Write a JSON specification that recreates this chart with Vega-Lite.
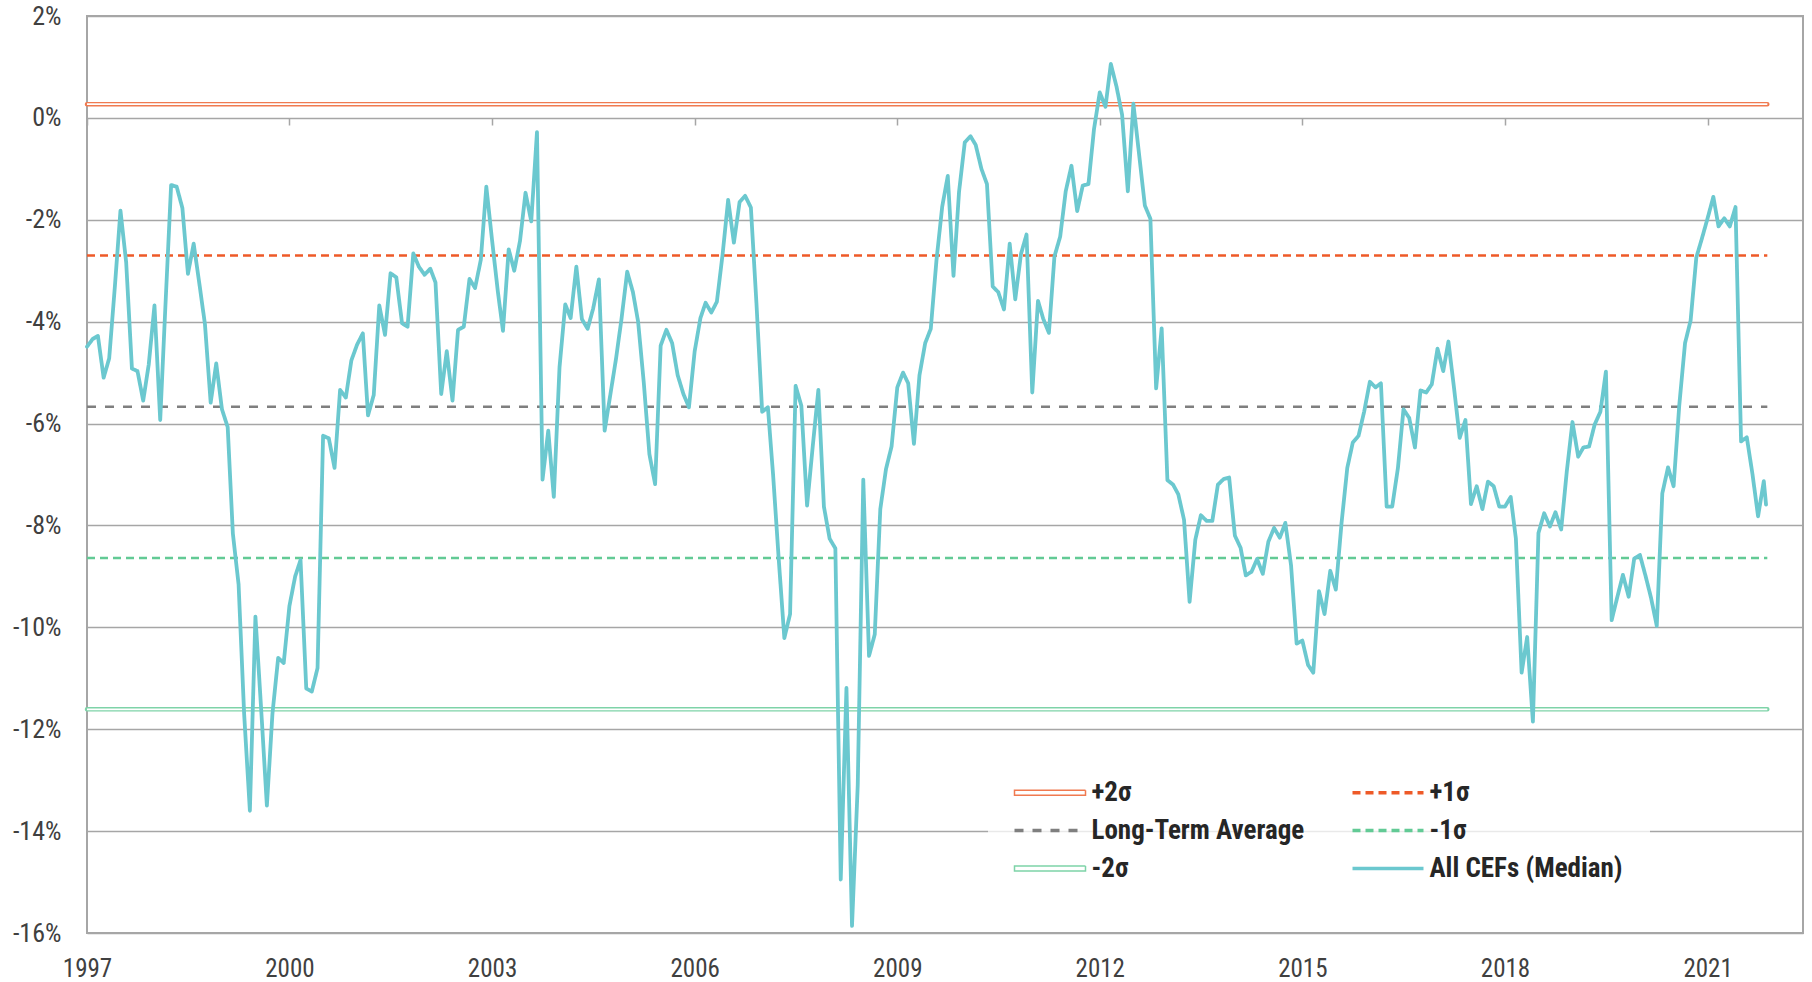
{
  "$schema": "https://vega.github.io/schema/vega-lite/v6.json",
  "width": 1716,
  "height": 917,
  "autosize": {"type": "none"},
  "padding": {"left": 87, "top": 16, "right": 9, "bottom": 49},
  "background": "white",
  "config": {
    "view": {"stroke": "#A6A6A6", "strokeWidth": 2},
    "font": "Roboto Condensed",
    "legend": {
      "orient": "none",
      "legendX": 901,
      "legendY": 736,
      "columns": 2,
      "columnPadding": 40,
      "rowPadding": 10,
      "padding": 27,
      "fillColor": "rgba(255,255,255,0.75)",
      "symbolType": "stroke",
      "symbolSize": 5041,
      "symbolStrokeWidth": 3.5,
      "symbolOffset": 21.5,
      "labelFont": "Roboto Condensed",
      "labelFontSize": 27,
      "labelFontWeight": "bold",
      "labelColor": "#262626",
      "labelOffset": 28,
      "labelLimit": 400
    }
  },
  "datasets": {
    "refs": [
      {"series": "+2σ", "value": 0.27, "start": "1997-01-01", "end": "2021-11-20"},
      {"series": "+1σ", "value": -2.70, "start": "1997-01-01", "end": "2021-11-20"},
      {"series": "Long-Term Average", "value": -5.67, "start": "1997-01-01", "end": "2021-11-20"},
      {"series": "-1σ", "value": -8.64, "start": "1997-01-01", "end": "2021-11-20"},
      {"series": "-2σ", "value": -11.61, "start": "1997-01-01", "end": "2021-11-20"}
    ],
    "main": [
      {"date": "1997-01-01", "value": -4.49}, {"date": "1997-02-01", "value": -4.34}, {"date": "1997-03-01", "value": -4.28}, {"date": "1997-04-01", "value": -5.10}, {"date": "1997-05-01", "value": -4.72}, {"date": "1997-06-01", "value": -3.30}, {"date": "1997-07-01", "value": -1.82}, {"date": "1997-08-01", "value": -2.84}, {"date": "1997-09-01", "value": -4.92}, {"date": "1997-10-01", "value": -4.97}, {"date": "1997-11-01", "value": -5.55}, {"date": "1997-12-01", "value": -4.84},
      {"date": "1998-01-01", "value": -3.68}, {"date": "1998-02-01", "value": -5.93}, {"date": "1998-03-01", "value": -3.70}, {"date": "1998-04-01", "value": -1.32}, {"date": "1998-05-01", "value": -1.35}, {"date": "1998-06-01", "value": -1.77}, {"date": "1998-07-01", "value": -3.06}, {"date": "1998-08-01", "value": -2.47}, {"date": "1998-09-01", "value": -3.26}, {"date": "1998-10-01", "value": -4.05}, {"date": "1998-11-01", "value": -5.59}, {"date": "1998-12-01", "value": -4.82},
      {"date": "1999-01-01", "value": -5.72}, {"date": "1999-02-01", "value": -6.07}, {"date": "1999-03-01", "value": -8.16}, {"date": "1999-04-01", "value": -9.16}, {"date": "1999-05-01", "value": -11.70}, {"date": "1999-06-01", "value": -13.60}, {"date": "1999-07-01", "value": -9.79}, {"date": "1999-08-01", "value": -11.60}, {"date": "1999-09-01", "value": -13.50}, {"date": "1999-10-01", "value": -11.70}, {"date": "1999-11-01", "value": -10.60}, {"date": "1999-12-01", "value": -10.70},
      {"date": "2000-01-01", "value": -9.58}, {"date": "2000-02-01", "value": -9.00}, {"date": "2000-03-01", "value": -8.68}, {"date": "2000-04-01", "value": -11.20}, {"date": "2000-05-01", "value": -11.26}, {"date": "2000-06-01", "value": -10.80}, {"date": "2000-07-01", "value": -6.24}, {"date": "2000-08-01", "value": -6.29}, {"date": "2000-09-01", "value": -6.87}, {"date": "2000-10-01", "value": -5.34}, {"date": "2000-11-01", "value": -5.49}, {"date": "2000-12-01", "value": -4.76},
      {"date": "2001-01-01", "value": -4.45}, {"date": "2001-02-01", "value": -4.23}, {"date": "2001-03-01", "value": -5.84}, {"date": "2001-04-01", "value": -5.44}, {"date": "2001-05-01", "value": -3.68}, {"date": "2001-06-01", "value": -4.26}, {"date": "2001-07-01", "value": -3.05}, {"date": "2001-08-01", "value": -3.13}, {"date": "2001-09-01", "value": -4.03}, {"date": "2001-10-01", "value": -4.10}, {"date": "2001-11-01", "value": -2.66}, {"date": "2001-12-01", "value": -2.92},
      {"date": "2002-01-01", "value": -3.08}, {"date": "2002-02-01", "value": -2.96}, {"date": "2002-03-01", "value": -3.23}, {"date": "2002-04-01", "value": -5.42}, {"date": "2002-05-01", "value": -4.58}, {"date": "2002-06-01", "value": -5.55}, {"date": "2002-07-01", "value": -4.16}, {"date": "2002-08-01", "value": -4.10}, {"date": "2002-09-01", "value": -3.16}, {"date": "2002-10-01", "value": -3.34}, {"date": "2002-11-01", "value": -2.79}, {"date": "2002-12-01", "value": -1.35},
      {"date": "2003-01-01", "value": -2.40}, {"date": "2003-02-01", "value": -3.40}, {"date": "2003-03-01", "value": -4.18}, {"date": "2003-04-01", "value": -2.58}, {"date": "2003-05-01", "value": -3.00}, {"date": "2003-06-01", "value": -2.42}, {"date": "2003-07-01", "value": -1.47}, {"date": "2003-08-01", "value": -2.03}, {"date": "2003-09-01", "value": -0.28}, {"date": "2003-10-01", "value": -7.10}, {"date": "2003-11-01", "value": -6.14}, {"date": "2003-12-01", "value": -7.44},
      {"date": "2004-01-01", "value": -4.89}, {"date": "2004-02-01", "value": -3.66}, {"date": "2004-03-01", "value": -3.93}, {"date": "2004-04-01", "value": -2.92}, {"date": "2004-05-01", "value": -3.95}, {"date": "2004-06-01", "value": -4.14}, {"date": "2004-07-01", "value": -3.74}, {"date": "2004-08-01", "value": -3.17}, {"date": "2004-09-01", "value": -6.14}, {"date": "2004-10-01", "value": -5.45}, {"date": "2004-11-01", "value": -4.74}, {"date": "2004-12-01", "value": -3.95},
      {"date": "2005-01-01", "value": -3.02}, {"date": "2005-02-01", "value": -3.42}, {"date": "2005-03-01", "value": -4.00}, {"date": "2005-04-01", "value": -5.21}, {"date": "2005-05-01", "value": -6.60}, {"date": "2005-06-01", "value": -7.19}, {"date": "2005-07-01", "value": -4.47}, {"date": "2005-08-01", "value": -4.16}, {"date": "2005-09-01", "value": -4.42}, {"date": "2005-10-01", "value": -5.05}, {"date": "2005-11-01", "value": -5.42}, {"date": "2005-12-01", "value": -5.68},
      {"date": "2006-01-01", "value": -4.58}, {"date": "2006-02-01", "value": -3.93}, {"date": "2006-03-01", "value": -3.63}, {"date": "2006-04-01", "value": -3.82}, {"date": "2006-05-01", "value": -3.61}, {"date": "2006-06-01", "value": -2.68}, {"date": "2006-07-01", "value": -1.61}, {"date": "2006-08-01", "value": -2.45}, {"date": "2006-09-01", "value": -1.65}, {"date": "2006-10-01", "value": -1.53}, {"date": "2006-11-01", "value": -1.76}, {"date": "2006-12-01", "value": -3.63},
      {"date": "2007-01-01", "value": -5.77}, {"date": "2007-02-01", "value": -5.68}, {"date": "2007-03-01", "value": -7.00}, {"date": "2007-04-01", "value": -8.68}, {"date": "2007-05-01", "value": -10.21}, {"date": "2007-06-01", "value": -9.74}, {"date": "2007-07-01", "value": -5.26}, {"date": "2007-08-01", "value": -5.65}, {"date": "2007-09-01", "value": -7.61}, {"date": "2007-10-01", "value": -6.47}, {"date": "2007-11-01", "value": -5.34}, {"date": "2007-12-01", "value": -7.63},
      {"date": "2008-01-01", "value": -8.26}, {"date": "2008-02-01", "value": -8.45}, {"date": "2008-03-01", "value": -14.95}, {"date": "2008-04-01", "value": -11.19}, {"date": "2008-05-01", "value": -15.86}, {"date": "2008-06-01", "value": -13.10}, {"date": "2008-07-01", "value": -7.10}, {"date": "2008-08-01", "value": -10.56}, {"date": "2008-09-01", "value": -10.14}, {"date": "2008-10-01", "value": -7.68}, {"date": "2008-11-01", "value": -6.89}, {"date": "2008-12-01", "value": -6.45},
      {"date": "2009-01-01", "value": -5.29}, {"date": "2009-02-01", "value": -5.00}, {"date": "2009-03-01", "value": -5.21}, {"date": "2009-04-01", "value": -6.40}, {"date": "2009-05-01", "value": -5.05}, {"date": "2009-06-01", "value": -4.42}, {"date": "2009-07-01", "value": -4.14}, {"date": "2009-08-01", "value": -2.79}, {"date": "2009-09-01", "value": -1.74}, {"date": "2009-10-01", "value": -1.14}, {"date": "2009-11-01", "value": -3.10}, {"date": "2009-12-01", "value": -1.45},
      {"date": "2010-01-01", "value": -0.48}, {"date": "2010-02-01", "value": -0.36}, {"date": "2010-03-01", "value": -0.53}, {"date": "2010-04-01", "value": -1.00}, {"date": "2010-05-01", "value": -1.30}, {"date": "2010-06-01", "value": -3.31}, {"date": "2010-07-01", "value": -3.42}, {"date": "2010-08-01", "value": -3.76}, {"date": "2010-09-01", "value": -2.47}, {"date": "2010-10-01", "value": -3.56}, {"date": "2010-11-01", "value": -2.67}, {"date": "2010-12-01", "value": -2.29},
      {"date": "2011-01-01", "value": -5.39}, {"date": "2011-02-01", "value": -3.59}, {"date": "2011-03-01", "value": -3.94}, {"date": "2011-04-01", "value": -4.22}, {"date": "2011-05-01", "value": -2.72}, {"date": "2011-06-01", "value": -2.33}, {"date": "2011-07-01", "value": -1.44}, {"date": "2011-08-01", "value": -0.94}, {"date": "2011-09-01", "value": -1.83}, {"date": "2011-10-01", "value": -1.33}, {"date": "2011-11-01", "value": -1.30}, {"date": "2011-12-01", "value": -0.22},
      {"date": "2012-01-01", "value": 0.50}, {"date": "2012-02-01", "value": 0.22}, {"date": "2012-03-01", "value": 1.06}, {"date": "2012-04-01", "value": 0.61}, {"date": "2012-05-01", "value": 0.06}, {"date": "2012-06-01", "value": -1.44}, {"date": "2012-07-01", "value": 0.28}, {"date": "2012-08-01", "value": -0.72}, {"date": "2012-09-01", "value": -1.72}, {"date": "2012-10-01", "value": -1.98}, {"date": "2012-11-01", "value": -5.31}, {"date": "2012-12-01", "value": -4.13},
      {"date": "2013-01-01", "value": -7.11}, {"date": "2013-02-01", "value": -7.20}, {"date": "2013-03-01", "value": -7.39}, {"date": "2013-04-01", "value": -7.89}, {"date": "2013-05-01", "value": -9.50}, {"date": "2013-06-01", "value": -8.28}, {"date": "2013-07-01", "value": -7.80}, {"date": "2013-08-01", "value": -7.91}, {"date": "2013-09-01", "value": -7.91}, {"date": "2013-10-01", "value": -7.20}, {"date": "2013-11-01", "value": -7.09}, {"date": "2013-12-01", "value": -7.06},
      {"date": "2014-01-01", "value": -8.20}, {"date": "2014-02-01", "value": -8.44}, {"date": "2014-03-01", "value": -8.98}, {"date": "2014-04-01", "value": -8.91}, {"date": "2014-05-01", "value": -8.66}, {"date": "2014-06-01", "value": -8.95}, {"date": "2014-07-01", "value": -8.32}, {"date": "2014-08-01", "value": -8.05}, {"date": "2014-09-01", "value": -8.24}, {"date": "2014-10-01", "value": -7.95}, {"date": "2014-11-01", "value": -8.79}, {"date": "2014-12-01", "value": -10.32},
      {"date": "2015-01-01", "value": -10.26}, {"date": "2015-02-01", "value": -10.74}, {"date": "2015-03-01", "value": -10.89}, {"date": "2015-04-01", "value": -9.29}, {"date": "2015-05-01", "value": -9.74}, {"date": "2015-06-01", "value": -8.89}, {"date": "2015-07-01", "value": -9.26}, {"date": "2015-08-01", "value": -7.95}, {"date": "2015-09-01", "value": -6.87}, {"date": "2015-10-01", "value": -6.37}, {"date": "2015-11-01", "value": -6.24}, {"date": "2015-12-01", "value": -5.77},
      {"date": "2016-01-01", "value": -5.18}, {"date": "2016-02-01", "value": -5.29}, {"date": "2016-03-01", "value": -5.21}, {"date": "2016-04-01", "value": -7.63}, {"date": "2016-05-01", "value": -7.63}, {"date": "2016-06-01", "value": -6.87}, {"date": "2016-07-01", "value": -5.72}, {"date": "2016-08-01", "value": -5.89}, {"date": "2016-09-01", "value": -6.47}, {"date": "2016-10-01", "value": -5.35}, {"date": "2016-11-01", "value": -5.39}, {"date": "2016-12-01", "value": -5.23},
      {"date": "2017-01-01", "value": -4.53}, {"date": "2017-02-01", "value": -4.97}, {"date": "2017-03-01", "value": -4.39}, {"date": "2017-04-01", "value": -5.32}, {"date": "2017-05-01", "value": -6.28}, {"date": "2017-06-01", "value": -5.93}, {"date": "2017-07-01", "value": -7.58}, {"date": "2017-08-01", "value": -7.23}, {"date": "2017-09-01", "value": -7.68}, {"date": "2017-10-01", "value": -7.14}, {"date": "2017-11-01", "value": -7.23}, {"date": "2017-12-01", "value": -7.63},
      {"date": "2018-01-01", "value": -7.63}, {"date": "2018-02-01", "value": -7.44}, {"date": "2018-03-01", "value": -8.26}, {"date": "2018-04-01", "value": -10.89}, {"date": "2018-05-01", "value": -10.19}, {"date": "2018-06-01", "value": -11.85}, {"date": "2018-07-01", "value": -8.15}, {"date": "2018-08-01", "value": -7.76}, {"date": "2018-09-01", "value": -8.02}, {"date": "2018-10-01", "value": -7.74}, {"date": "2018-11-01", "value": -8.08}, {"date": "2018-12-01", "value": -6.95},
      {"date": "2019-01-01", "value": -5.97}, {"date": "2019-02-01", "value": -6.65}, {"date": "2019-03-01", "value": -6.47}, {"date": "2019-04-01", "value": -6.45}, {"date": "2019-05-01", "value": -6.02}, {"date": "2019-06-01", "value": -5.77}, {"date": "2019-07-01", "value": -4.98}, {"date": "2019-08-01", "value": -9.86}, {"date": "2019-09-01", "value": -9.40}, {"date": "2019-10-01", "value": -8.97}, {"date": "2019-11-01", "value": -9.40}, {"date": "2019-12-01", "value": -8.65},
      {"date": "2020-01-01", "value": -8.58}, {"date": "2020-02-01", "value": -9.00}, {"date": "2020-03-01", "value": -9.42}, {"date": "2020-04-01", "value": -9.97}, {"date": "2020-05-01", "value": -7.37}, {"date": "2020-06-01", "value": -6.86}, {"date": "2020-07-01", "value": -7.23}, {"date": "2020-08-01", "value": -5.63}, {"date": "2020-09-01", "value": -4.42}, {"date": "2020-10-01", "value": -3.98}, {"date": "2020-11-01", "value": -2.74}, {"date": "2020-12-01", "value": -2.37},
      {"date": "2021-01-01", "value": -1.97}, {"date": "2021-02-01", "value": -1.55}, {"date": "2021-03-01", "value": -2.13}, {"date": "2021-04-01", "value": -1.97}, {"date": "2021-05-01", "value": -2.13}, {"date": "2021-06-01", "value": -1.75}, {"date": "2021-07-01", "value": -6.35}, {"date": "2021-08-01", "value": -6.27}, {"date": "2021-09-01", "value": -7.00}, {"date": "2021-10-01", "value": -7.82}, {"date": "2021-11-01", "value": -7.13}, {"date": "2021-11-13", "value": -7.59}
    ]
  },
  "layer": [
    {
      "data": {"name": "refs"},
      "transform": [{"filter": "datum.series === '+2σ' || datum.series === '-2σ'"}],
      "mark": {"type": "rule", "strokeWidth": 4.5, "strokeCap": "round"},
      "encoding": {
        "x": {
          "field": "start", "type": "temporal",
          "scale": {"type": "utc", "domain": [{"year": 1997, "month": 1, "date": 1, "utc": true}, {"year": 2022, "month": 6, "date": 1, "utc": true}]},
          "axis": {
            "orient": "bottom", "offset": -815, "labels": false, "domain": false, "grid": false,
            "ticks": true, "tickSize": 7, "tickColor": "#A6A6A6", "tickWidth": 1.5, "title": null,
            "values": [{"year": 1997, "utc": true}, {"year": 2000, "utc": true}, {"year": 2003, "utc": true}, {"year": 2006, "utc": true}, {"year": 2009, "utc": true}, {"year": 2012, "utc": true}, {"year": 2015, "utc": true}, {"year": 2018, "utc": true}, {"year": 2021, "utc": true}]
          }
        },
        "x2": {"field": "end"},
        "y": {
          "field": "value", "type": "quantitative",
          "scale": {"domain": [-16, 2], "nice": false, "zero": false},
          "axis": {
            "values": [-16, -14, -12, -10, -8, -6, -4, -2, 0, 2],
            "labelExpr": "datum.value + '%'",
            "labelFont": "Roboto Condensed", "labelFontSize": 26, "labelColor": "#404040",
            "labelPadding": 26, "ticks": false, "domain": false, "grid": true,
            "gridColor": "#A6A6A6", "gridWidth": 1.5, "title": null
          }
        },
        "color": {
          "field": "series", "type": "nominal",
          "scale": {"domain": ["+2σ", "Long-Term Average", "-2σ", "+1σ", "-1σ", "All CEFs (Median)"], "range": ["#F07A50", "#7F7F7F", "#7ED3A8", "#EE5A28", "#62CA95", "#6BC8CF"]},
          "legend": {
            "title": null,
            "encode": {
              "symbols": {
                "update": {
                  "shape": {"signal": "(datum.value === '+2σ' || datum.value === '-2σ') ? 'M-1,-0.07H1V0.07H-1Z' : 'stroke'"},
                  "fill": {"signal": "(datum.value === '+2σ' || datum.value === '-2σ') ? '#ffffff' : 'transparent'"},
                  "strokeWidth": {"signal": "(datum.value === '+2σ' || datum.value === '-2σ') ? 1.5 : 3.5"}
                }
              }
            }
          }
        },
        "strokeDash": {
          "field": "series", "type": "nominal",
          "scale": {"domain": ["+2σ", "Long-Term Average", "-2σ", "+1σ", "-1σ", "All CEFs (Median)"], "range": [[1, 0], [9, 9], [1, 0], [8, 5], [8, 5], [1, 0]]},
          "legend": {"title": null}
        }
      }
    },
    {
      "data": {"name": "refs"},
      "transform": [{"filter": "datum.series !== '+2σ' && datum.series !== '-2σ'"}],
      "mark": {"type": "rule", "strokeWidth": 2.5},
      "encoding": {
        "x": {"field": "start", "type": "temporal", "axis": null},
        "x2": {"field": "end"},
        "y": {"field": "value", "type": "quantitative"},
        "color": {
          "field": "series", "type": "nominal",
          "scale": {"domain": ["+2σ", "Long-Term Average", "-2σ", "+1σ", "-1σ", "All CEFs (Median)"], "range": ["#F07A50", "#7F7F7F", "#7ED3A8", "#EE5A28", "#62CA95", "#6BC8CF"]}
        },
        "strokeDash": {
          "field": "series", "type": "nominal",
          "scale": {"domain": ["+2σ", "Long-Term Average", "-2σ", "+1σ", "-1σ", "All CEFs (Median)"], "range": [[1, 0], [9, 9], [1, 0], [8, 5], [8, 5], [1, 0]]}
        }
      }
    },
    {
      "data": {"name": "refs"},
      "transform": [{"filter": "datum.series === '+2σ' || datum.series === '-2σ'"}],
      "mark": {"type": "rule", "strokeWidth": 1.7, "color": "#ffffff"},
      "encoding": {
        "x": {"field": "start", "type": "temporal", "axis": null},
        "x2": {"field": "end"},
        "y": {"field": "value", "type": "quantitative"}
      }
    },
    {
      "data": {"name": "main"},
      "mark": {"type": "line", "strokeWidth": 3.8, "strokeJoin": "round", "strokeCap": "round"},
      "encoding": {
        "x": {
          "field": "date", "type": "temporal",
          "axis": {
            "orient": "bottom", "format": "%Y", "formatType": "utc",
            "values": [{"year": 1997, "utc": true}, {"year": 2000, "utc": true}, {"year": 2003, "utc": true}, {"year": 2006, "utc": true}, {"year": 2009, "utc": true}, {"year": 2012, "utc": true}, {"year": 2015, "utc": true}, {"year": 2018, "utc": true}, {"year": 2021, "utc": true}],
            "labelFont": "Roboto Condensed", "labelFontSize": 25, "labelColor": "#404040",
            "labelPadding": 23, "labelFlush": false, "labelOverlap": false,
            "ticks": false, "domain": false, "grid": false, "title": null
          }
        },
        "y": {"field": "value", "type": "quantitative"},
        "color": {
          "datum": "All CEFs (Median)", "type": "nominal",
          "scale": {"domain": ["+2σ", "Long-Term Average", "-2σ", "+1σ", "-1σ", "All CEFs (Median)"], "range": ["#F07A50", "#7F7F7F", "#7ED3A8", "#EE5A28", "#62CA95", "#6BC8CF"]}
        },
        "strokeDash": {
          "datum": "All CEFs (Median)", "type": "nominal",
          "scale": {"domain": ["+2σ", "Long-Term Average", "-2σ", "+1σ", "-1σ", "All CEFs (Median)"], "range": [[1, 0], [9, 9], [1, 0], [8, 5], [8, 5], [1, 0]]}
        }
      }
    }
  ],
  "resolve": {"axis": {"x": "independent"}}
}
